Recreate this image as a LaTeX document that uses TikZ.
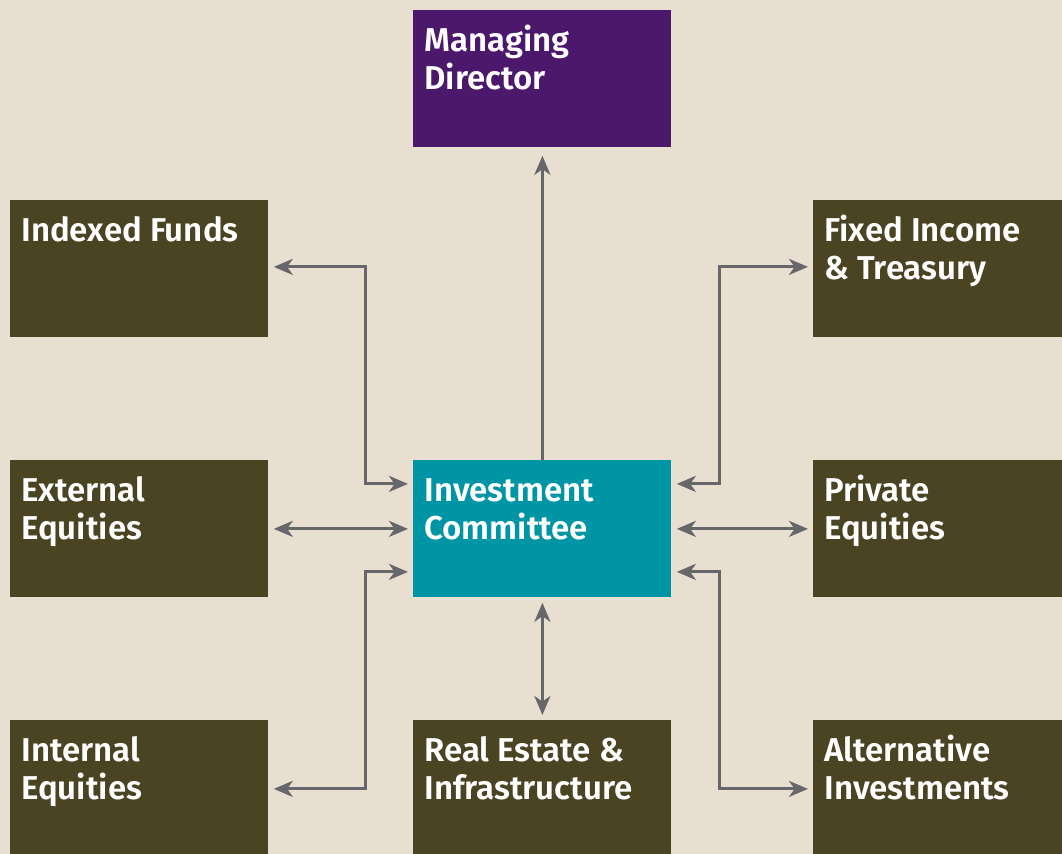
\documentclass[tikz,border=0pt]{standalone}
\usepackage{fontspec}
\setmainfont{Fira Sans}[BoldFont={* SemiBold}]
\usetikzlibrary{arrows.meta}

\definecolor{paper}{HTML}{E8DFD1}
\definecolor{fundolive}{HTML}{4A4423}
\definecolor{mdpurple}{HTML}{4B186B}
\definecolor{icteal}{HTML}{0095A4}
\definecolor{linkgray}{HTML}{66676B}

\newcommand{\unittext}[1]{\parbox[t][53.5pt][t]{118pt}{\raggedright\rule{0pt}{13pt}#1}}

\tikzset{
	orgpicture/.style = {
		x = 0.5pt,
		y = -0.5pt,
		>= {Stealth[length=9.5pt, width=8pt, inset=2.8pt]},
		link/.style = {
			draw = linkgray,
			line width = 1.5pt,
			<->,
			shorten >=2.5pt,
			shorten <=2.5pt,
		}
	},
	unitnode/.style = {
		anchor = north west,
		fill = fundolive,
		text = white,
		inner xsep = 5.5pt,
		inner ysep = 7.5pt,
		minimum width = 129pt,
		minimum height = 68.5pt,
		font = \bfseries\fontsize{16.5pt}{19pt}\selectfont
	},
	leadnode/.style = {
		unitnode,
		fill = mdpurple
	},
	hubnode/.style = {
		unitnode,
		fill = icteal
	}
}

\begin{document}
\begin{tikzpicture}[orgpicture]
	\useasboundingbox (0,0) rectangle (1062,854);
	\clip (0,0) rectangle (1062,854);
	\fill[paper] (0,0) rectangle (1062,854);

	\node[leadnode] (MD) at (413,10) {\unittext{Managing\\Director}};
	\node[unitnode] (IF) at (10,200) {\unittext{Indexed Funds}};
	\node[unitnode] (FI) at (813,200) {\unittext{Fixed Income\\\& Treasury}};
	\node[unitnode] (EE) at (10,460) {\unittext{External\\Equities}};
	\node[hubnode] (IC) at (413,460) {\unittext{Investment\\Committee}};
	\node[unitnode] (PE) at (813,460) {\unittext{Private\\Equities}};
	\node[unitnode] (IE) at (10,720) {\unittext{Internal\\Equities}};
	\node[unitnode] (RE) at (413,720) {\unittext{Real Estate \&\\Infrastructure}};
	\node[unitnode] (AI) at (813,720) {\unittext{Alternative\\Investments}};

	\begin{scope}[every path/.style = link]
		\path[->, shorten >=4pt, shorten <=0pt] (IC.north) -- (MD.south);
		\path ([yshift=22.5pt]IC.west) -- ++(-48,0) |- ([yshift=1pt]IF.east);
		\path (IC.west) -- (EE.east);
		\path ([yshift=-21.5pt]IC.west) -- ++(-48,0) |- (IE.east);
		\path ([yshift=22.5pt]IC.east) -- ++(48,0) |- ([yshift=1pt]FI.west);
		\path (IC.east) -- (PE.west);
		\path ([yshift=-21.5pt]IC.east) -- ++(48,0) |- (AI.west);
		\path (IC.south) -- (RE.north);
	\end{scope}
\end{tikzpicture}
\end{document}
